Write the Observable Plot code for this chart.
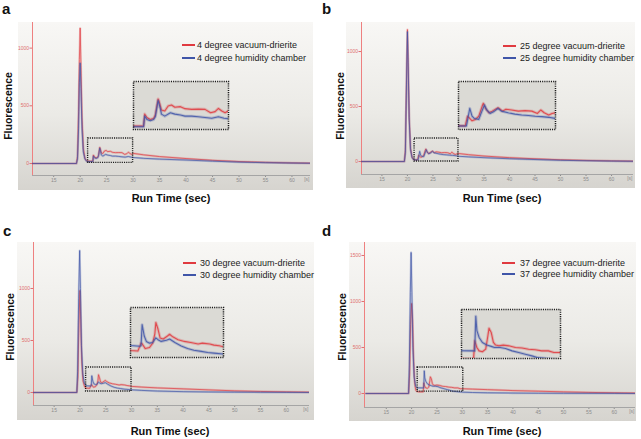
<!DOCTYPE html>
<html><head><meta charset="utf-8">
<script src="https://cdn.jsdelivr.net/npm/d3@7"></script>
<script src="https://cdn.jsdelivr.net/npm/@observablehq/plot@0.6"></script>
<style>
body{margin:0;background:#fff}
#fig{position:relative;width:641px;height:439px;overflow:hidden;font-family:"Liberation Sans",Arial,Helvetica,sans-serif;color:#111}
.abs{position:absolute}
.bg{background:linear-gradient(#f8f7f5 0%,#ebeae6 55%,#d6d4cf 100%)}
.letter{font-weight:bold;font-size:15px;line-height:15px}
.ytitle{font-weight:bold;font-size:10.5px;white-space:nowrap;transform:translate(-50%,-50%) rotate(-90deg)}
.xtitle{font-weight:bold;font-size:11px;white-space:nowrap;transform:translate(-50%,-50%)}
.leg{font-size:9px;white-space:nowrap;transform:translateY(-50%);color:#222}
.legline{height:1.6px}
</style></head>
<body><div id="fig"></div>
<script>
// ---------- data ----------
const xTicks = [15, 20, 25, 30, 35, 40, 45, 50, 55, 60];
const yTicksABC = [0, 500, 1000];
const yTicksD = [0, 500, 1000, 1500];

const legendA = ["4 degree vacuum-drierite", "4 degree humidity chamber"];
const legendB = ["25 degree vacuum-drierite", "25 degree humidity chamber"];
const legendC = ["30 degree vacuum-drierite", "30 degree humidity chamber"];
const legendD = ["37 degree vacuum-drierite", "37 degree humidity chamber"];

const aRedT = [11,19.3,19.5,19.7,19.85,20.0,20.15,20.35,20.6,20.9,21.2,21.5,22.4,22.5,22.7,23.0,23.3,23.45,23.7,23.8,24.0,24.3,24.6,24.9,25.2,25.7,26.1,26.7,27.3,27.9,28.4,28.8,29.1,29.4,29.7,30,32,35,40,45,50,55,60,63.5];
const aRedV = [0,0,60,450,900,1174,850,400,130,45,24,20,20,73,58,49,54,69,140,128,91,87,109,113,103,106,97,94,95,94,79,84,98,87,79,88,75,60,43,28,17,10,5,3];
const aBlueT = [11,19.3,19.5,19.7,19.85,20.0,20.15,20.35,20.6,20.9,21.2,21.5,22.4,22.5,22.7,23.0,23.3,23.45,23.7,23.9,24.0,24.3,24.8,25.2,25.7,26.1,26.7,27.3,27.9,28.5,29.1,29.6,30,32,35,40,45,50,55,60,63.5];
const aBlueV = [0,0,40,300,700,870,650,300,100,40,20,17,17,64,49,44,49,61,133,98,73,64,79,73,69,64,64,61,58,55,61,55,52,45,38,30,20,12,7,4,2];

const bRedT = [11,19.4,19.6,19.8,20.0,20.15,20.35,20.6,20.9,21.2,21.4,22.0,22.2,22.4,22.6,22.9,23.2,23.5,23.6,23.8,24.1,24.4,24.9,25.0,25.3,25.6,26.1,26.7,27.3,27.9,28.4,28.7,29.0,29.4,29.7,30,32,35,40,45,50,55,60,64.3];
const bRedV = [0,0,100,700,1200,900,400,120,40,18,16,16,58,48,38,44,58,102,114,92,73,80,95,92,80,88,85,80,82,80,70,85,73,63,70,73,62,50,35,25,16,10,6,3];
const bBlueT = [11,19.4,19.6,19.8,20.0,20.15,20.35,20.6,20.9,21.2,21.4,22.1,22.4,22.6,22.8,23.2,23.4,23.7,23.9,24.2,24.5,24.9,25.2,25.8,26.4,27.0,27.6,28.2,28.8,29.4,30,32,35,40,45,50,55,60,64.3];
const bBlueV = [0,0,80,650,1180,850,380,110,38,16,15,15,92,58,48,44,70,107,85,70,77,92,80,73,67,63,61,58,56,53,48,42,35,25,18,11,7,4,2];

const cRedT = [11,19.4,19.6,19.8,20.0,20.15,20.35,20.6,20.9,21.2,21.9,22.2,22.3,22.6,23.0,23.3,23.5,23.6,23.8,24.0,24.3,24.7,24.9,25.2,25.7,26.3,26.9,27.6,28.0,28.7,29.1,29.6,30,32,35,40,45,50,55,60,64.5];
const cRedV = [0,0,150,650,980,700,300,110,55,42,40,76,73,51,56,76,117,171,141,100,95,109,117,105,92,84,79,72,76,72,67,64,59,52,44,35,25,16,10,6,3];
const cBlueT = [11,19.4,19.55,19.75,19.95,20.1,20.3,20.55,20.85,21.2,22.1,22.2,22.3,22.5,22.7,23.0,23.3,23.6,23.8,24.1,24.6,24.9,25.4,26.0,26.6,27.2,27.9,28.5,29.1,30,32,35,40,45,50,55,60,64.5];
const cBlueV = [0,0,200,900,1365,1000,450,180,90,65,62,65,161,109,84,76,79,100,92,84,89,95,79,63,51,43,38,33,30,26,20,14,8,5,3,2,1,0];

const dRedT = [11,19.4,19.6,19.8,20.0,20.2,20.4,20.6,20.8,21.0,21.5,22.3,22.4,22.6,22.8,23.1,23.4,23.6,23.7,23.9,24.1,24.3,24.6,25.0,25.5,26.1,26.7,27.3,27.9,28.5,29.1,29.6,30.1,32,35,40,45,50,55,60,64.2];
const dRedV = [0,0,200,750,978,800,350,120,40,22,18,18,115,79,61,56,70,142,182,160,106,92,88,92,88,79,76,70,67,61,61,52,52,48,42,32,25,18,12,8,5];
const dBlueT = [11,19.4,19.55,19.75,19.9,20.05,20.25,20.5,20.8,21.1,22.3,22.4,22.5,22.6,22.8,23.1,23.5,23.9,24.2,24.7,25.2,25.8,26.4,27.0,27.6,28.1,29.0,30,32,35,40,45,50,60,64.2];
const dBlueV = [0,0,300,1100,1533,1100,500,180,80,62,61,61,247,170,133,106,92,85,79,79,74,61,52,43,34,25,20,15,11,8,5,3,2,1,0];

// zoom windows shown in the insets (data units)
const zoomA = {x: [21.5, 30], y: [5, 217]};
const zoomB = {x: [21.4, 30], y: [0, 209]};
const zoomC = {x: [21.2, 30], y: [10, 240]};
const zoomD = {x: [21.2, 30.2], y: [20, 283]};

// ---------- layout ----------
const RED = "#e03a40", BLUE = "#3f55a8";
const FONT = "Liberation Sans, Arial, Helvetica, sans-serif";
const series = (T, V) => T.map((t, i) => ({t, v: V[i]}));

const panels = [
  {id: "a", red: series(aRedT, aRedV), blue: series(aBlueT, aBlueV), legend: legendA, zoom: zoomA, yTicks: yTicksABC,
   bg: [18, 22, 313, 190], axisX: 32, axisTop: 22, axisBottom: 175, axisRight: 310, xDomain: [11, 63.5], yDomain: [-104, 1222],
   inset: [133, 81, 228, 129], leg: {lx: 182, tx: 197, y1: 45, y2: 58}, letter: [2, 1], ytitle: [8, 106], xtitle: [171, 198]},
  {id: "b", red: series(bRedT, bRedV), blue: series(bBlueT, bBlueV), legend: legendB, zoom: zoomB, yTicks: yTicksABC,
   bg: [346, 22, 635, 188], axisX: 361, axisTop: 22, axisBottom: 174, axisRight: 633, xDomain: [11, 64.3], yDomain: [-118, 1264],
   inset: [458, 81, 555, 129], leg: {lx: 503, tx: 520, y1: 46, y2: 58}, letter: [322, 1], ytitle: [340, 106], xtitle: [502, 198]},
  {id: "c", red: series(cRedT, cRedV), blue: series(cBlueT, cBlueV), legend: legendC, zoom: zoomC, yTicks: yTicksABC,
   bg: [17, 242, 314, 420], axisX: 33, axisTop: 242, axisBottom: 405, axisRight: 309, xDomain: [11, 64.5], yDomain: [-125, 1442],
   inset: [130, 307, 223, 357], leg: {lx: 183, tx: 200, y1: 263, y2: 275}, letter: [3, 223], ytitle: [10, 327], xtitle: [170, 431]},
  {id: "d", red: series(dRedT, dRedV), blue: series(dBlueT, dBlueV), legend: legendD, zoom: zoomD, yTicks: yTicksD,
   bg: [349, 242, 636, 421], axisX: 364, axisTop: 242, axisBottom: 407, axisRight: 635, xDomain: [10.7, 64.2], yDomain: [-152, 1641],
   inset: [461, 309, 560, 358], leg: {lx: 502, tx: 520, y1: 263, y2: 274}, letter: [322, 223], ytitle: [342, 327], xtitle: [502, 431]}
];

function lines(data, color, inset) {
  return [
    Plot.line(data, {x: "t", y: "v", stroke: color, strokeWidth: inset ? 3 : 2.2, strokeOpacity: 0.25, clip: true}),
    Plot.line(data, {x: "t", y: "v", stroke: color, strokeWidth: inset ? 1.1 : 0.8, strokeOpacity: 0.85, clip: true})
  ];
}

function mainPlot(p) {
  const [bl, bt, br, bb] = p.bg;
  const z = p.zoom;
  return Plot.plot({
    width: br - bl, height: bb - bt,
    marginLeft: p.axisX - bl, marginTop: p.axisTop - bt, marginRight: br - p.axisRight, marginBottom: bb - p.axisBottom,
    x: {domain: p.xDomain, label: null},
    y: {domain: p.yDomain, label: null},
    style: {background: "transparent", fontFamily: FONT, overflow: "visible"},
    marks: [
      Plot.axisY({ticks: p.yTicks, tickSize: 2.5, tickPadding: 1, fontSize: 5, color: "#e07070", tickFormat: d3.format("d"), label: null}),
      Plot.axisX({ticks: xTicks, tickSize: 2, tickPadding: 0.5, fontSize: 5, color: "#8c8c8c", tickFormat: d3.format("d"), label: null}),
      Plot.text(["[s]"], {text: d => d, frameAnchor: "bottom-right", dy: 5.5, dx: -1, fontSize: 5, fill: "#8c8c8c"}),
      Plot.ruleY([p.yDomain[0]], {stroke: "#a5a5a5"}),
      Plot.ruleX([p.xDomain[0]], {stroke: "#ee8080"}),
      ...lines(p.red, RED, false),
      ...lines(p.blue, BLUE, false),
      Plot.rect([z], {x1: d => d.x[0], x2: d => d.x[1], y1: d => d.y[0], y2: d => d.y[1],
        fill: "none", stroke: "#1a1a1a", strokeWidth: 1.4, strokeDasharray: "1.1,1.1"})
    ]
  });
}

function insetPlot(p) {
  const [l, t, r, b] = p.inset;
  return Plot.plot({
    width: r - l, height: b - t, margin: 0,
    x: {domain: p.zoom.x, axis: null},
    y: {domain: p.zoom.y, axis: null},
    style: {background: "transparent", overflow: "visible"},
    marks: [
      Plot.frame({fill: "#dbdad5", stroke: "none"}),
      ...lines(p.red, RED, true),
      ...lines(p.blue, BLUE, true),
      Plot.frame({stroke: "#1a1a1a", strokeWidth: 1.5, strokeDasharray: "1.1,1.1"})
    ]
  });
}

const fig = document.getElementById("fig");
function add(html, left, top, cls, extra) {
  const el = document.createElement("div");
  el.className = "abs " + (cls || "");
  el.style.left = left + "px"; el.style.top = top + "px";
  if (extra) Object.assign(el.style, extra);
  if (html instanceof Node) el.appendChild(html); else if (html != null) el.textContent = html;
  fig.appendChild(el);
  return el;
}

for (const p of panels) {
  const [bl, bt, br, bb] = p.bg;
  add(null, bl, bt, "bg", {width: (br - bl) + "px", height: (bb - bt) + "px"});
  add(mainPlot(p), bl, bt);
  add(insetPlot(p), p.inset[0], p.inset[1]);
  add(p.id, p.letter[0], p.letter[1], "letter");
  add("Fluorescence", p.ytitle[0], p.ytitle[1], "ytitle");
  add("Run Time (sec)", p.xtitle[0], p.xtitle[1], "xtitle");
  add(null, p.leg.lx, p.leg.y1 - 0.8, "legline", {width: "13px", background: RED});
  add(null, p.leg.lx, p.leg.y2 - 0.8, "legline", {width: "13px", background: BLUE});
  add(p.legend[0], p.leg.tx, p.leg.y1, "leg");
  add(p.legend[1], p.leg.tx, p.leg.y2, "leg");
}
</script></body></html>
